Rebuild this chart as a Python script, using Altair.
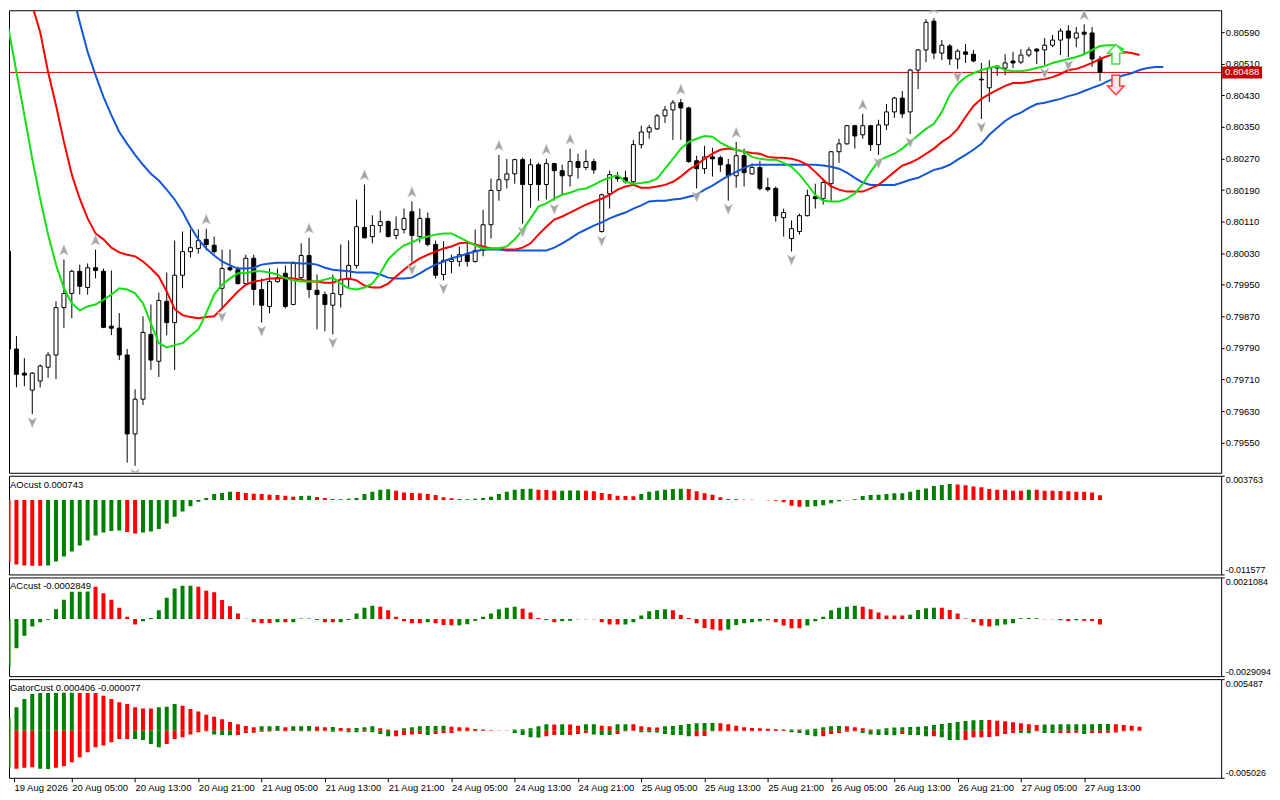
import altair as alt
import pandas as pd

# ---------------- data (prices in points, 1 point = 0.00001) ----------------
HIGH = [80040, 79820, 79764, 79728, 79748, 79779, 79908, 80014, 79988, 80001,
        80004, 80039, 79991, 79986, 79878, 79787, 79685, 79870, 79900, 79930,
        79981, 80062, 80085, 80090, 80090, 80092, 80072, 80039, 80039, 79996,
        80026, 80026, 79966, 79991, 79991, 79999, 80009, 80055, 80069, 79976,
        79933, 79976, 80052, 80062, 80166, 80204, 80126, 80138, 80113, 80123,
        80143, 80161, 80143, 80133, 80062, 80060, 80026, 80047, 80060, 80090,
        80140, 80219, 80279, 80269, 80269, 80272, 80269, 80259, 80269, 80259,
        80254, 80295, 80282, 80292, 80269, 80181, 80239, 80236, 80239, 80317,
        80353, 80355, 80383, 80403, 80418, 80421, 80401, 80277, 80302, 80297,
        80277, 80269, 80312, 80295, 80257, 80264, 80221, 80199, 80143, 80113,
        80130, 80191, 80206, 80219, 80289, 80320, 80355, 80355, 80383, 80355,
        80368, 80408, 80426, 80441, 80497, 80547, 80623, 80626, 80570, 80560,
        80547, 80560, 80545, 80512, 80519, 80507, 80534, 80540, 80547, 80552,
        80550, 80575, 80583, 80600, 80608, 80603, 80610, 80603, 80530]
OPEN = [80034, 79787, 79726, 79683, 79706, 79741, 79772, 79892, 79928, 79984,
        79943, 79993, 79984, 79845, 79840, 79772, 79572, 79660, 79824, 79756,
        79908, 79854, 79974, 80034, 80042, 80065, 80050, 79941, 79993, 79988,
        79953, 80017, 79938, 79895, 79958, 79979, 79900, 79968, 80024, 79936,
        79925, 79898, 79925, 79963, 79999, 80095, 80072, 80100, 80110, 80075,
        80090, 80135, 80072, 80118, 80052, 79976, 80009, 80009, 80026, 80009,
        80037, 80102, 80189, 80216, 80231, 80267, 80204, 80254, 80204, 80257,
        80239, 80226, 80262, 80247, 80262, 80085, 80181, 80224, 80221, 80211,
        80305, 80337, 80345, 80378, 80393, 80411, 80398, 80264, 80244, 80274,
        80272, 80254, 80226, 80277, 80231, 80247, 80196, 80194, 80120, 80067,
        80085, 80125, 80173, 80168, 80206, 80287, 80307, 80353, 80330, 80353,
        80305, 80355, 80388, 80423, 80388, 80494, 80545, 80618, 80537, 80555,
        80522, 80540, 80534, 80471, 80449, 80499, 80499, 80517, 80514, 80532,
        80547, 80545, 80557, 80570, 80593, 80575, 80590, 80588, 80522]
CLOSE = [79787, 79723, 79721, 79726, 79744, 79772, 79892, 79928, 79984, 79946,
         79993, 79986, 79842, 79840, 79772, 79572, 79660, 79829, 79759, 79910,
         79854, 79974, 80034, 80044, 80062, 80052, 80034, 79991, 79988, 79953,
         80017, 79938, 79898, 79958, 79968, 79895, 80004, 80024, 79938, 79925,
         79900, 79928, 79963, 79999, 80097, 80069, 80100, 80110, 80072, 80090,
         80118, 80075, 80118, 80052, 79974, 80012, 80014, 80026, 80009, 80037,
         80102, 80189, 80216, 80231, 80267, 80204, 80254, 80204, 80257, 80239,
         80226, 80262, 80247, 80262, 80241, 80178, 80229, 80219, 80211, 80305,
         80337, 80348, 80378, 80393, 80411, 80398, 80262, 80244, 80274, 80269,
         80254, 80226, 80277, 80234, 80247, 80194, 80191, 80125, 80133, 80092,
         80125, 80176, 80168, 80209, 80287, 80307, 80353, 80327, 80353, 80305,
         80355, 80388, 80423, 80383, 80494, 80545, 80615, 80537, 80557, 80522,
         80542, 80534, 80517, 80469, 80499, 80504, 80512, 80512, 80532, 80545,
         80542, 80557, 80570, 80593, 80575, 80588, 80585, 80522, 80488]
LOW = [79780, 79690, 79693, 79622, 79690, 79714, 79711, 79840, 79865, 79925,
       79925, 79966, 79840, 79822, 79759, 79499, 79491, 79645, 79734, 79716,
       79822, 79734, 79941, 80019, 80029, 80037, 80029, 79890, 79984, 79950,
       79950, 79898, 79854, 79878, 79955, 79890, 79898, 79963, 79917, 79837,
       79832, 79824, 79892, 79941, 79991, 80067, 80055, 80082, 80070, 80065,
       80080, 80009, 80057, 80047, 79966, 79961, 79979, 79996, 79996, 80006,
       80022, 80067, 80163, 80194, 80206, 80105, 80145, 80163, 80166, 80163,
       80178, 80199, 80219, 80241, 80231, 80082, 80143, 80211, 80206, 80206,
       80295, 80320, 80342, 80360, 80317, 80317, 80259, 80194, 80231, 80224,
       80236, 80163, 80196, 80199, 80229, 80189, 80186, 80110, 80072, 80034,
       80077, 80123, 80143, 80153, 80161, 80259, 80305, 80295, 80320, 80289,
       80279, 80342, 80373, 80373, 80332, 80446, 80514, 80522, 80519, 80507,
       80497, 80512, 80514, 80370, 80413, 80479, 80481, 80499, 80509, 80527,
       80509, 80507, 80552, 80532, 80527, 80552, 80534, 80502, 80466]

# Alligator lines (points); first bar index of each line
LIPS_START = 0
LIPS = [80598, 80489, 80380, 80269, 80168, 80077, 80001, 79941, 79903, 79885,
        79895, 79900, 79912, 79925, 79941, 79938, 79928, 79903, 79852, 79802,
        79791, 79797, 79802, 79820, 79837, 79878, 79925, 79950, 79966, 79979,
        79979, 79984, 79984, 79981, 79976, 79966, 79961, 79958, 79958, 79958,
        79963, 79968, 79953, 79941, 79938, 79943, 79953, 79979, 80014, 80034,
        80050, 80057, 80067, 80072, 80077, 80080, 80080, 80070, 80060, 80050,
        80042, 80042, 80042, 80047, 80065, 80089, 80118, 80148, 80156, 80168,
        80178, 80183, 80191, 80194, 80203, 80214, 80221, 80228, 80211, 80206,
        80208, 80211, 80219, 80244, 80269, 80295, 80312, 80320, 80327, 80325,
        80310, 80300, 80292, 80287, 80274, 80269, 80267, 80267, 80259, 80249,
        80229, 80204, 80178, 80163, 80161, 80161, 80168, 80181, 80206, 80236,
        80264, 80274, 80282, 80295, 80312, 80329, 80345, 80358, 80388, 80431,
        80459, 80476, 80486, 80494, 80499, 80504, 80494, 80491, 80491, 80494,
        80499, 80504, 80512, 80517, 80522, 80527, 80534, 80545, 80555, 80557,
        80557, 80545]
TEETH_START = 3
TEETH = [80658, 80590, 80489, 80405, 80312, 80229, 80168, 80118, 80080, 80065,
         80044, 80032, 80026, 80022, 80009, 79991, 79971, 79933, 79888, 79873,
         79868, 79865, 79868, 79870, 79890, 79912, 79933, 79950, 79958, 79961,
         79966, 79966, 79968, 79966, 79963, 79958, 79958, 79955, 79955, 79963,
         79966, 79961, 79948, 79943, 79943, 79953, 79971, 79988, 80004, 80017,
         80026, 80034, 80042, 80047, 80055, 80057, 80052, 80047, 80042, 80042,
         80039, 80039, 80044, 80055, 80077, 80097, 80115, 80123, 80133, 80143,
         80153, 80161, 80168, 80178, 80191, 80199, 80203, 80196, 80196, 80199,
         80203, 80211, 80224, 80241, 80254, 80269, 80282, 80292, 80295, 80292,
         80287, 80284, 80282, 80274, 80272, 80272, 80269, 80264, 80254, 80236,
         80216, 80199, 80191, 80186, 80186, 80186, 80194, 80203, 80219, 80236,
         80252, 80259, 80269, 80282, 80295, 80312, 80325, 80345, 80375, 80403,
         80421, 80433, 80444, 80454, 80461, 80461, 80464, 80469, 80471, 80476,
         80484, 80494, 80497, 80504, 80512, 80522, 80530, 80534, 80540, 80537,
         80532]
JAW_START = 8
JAW = [80696, 80615, 80540, 80481, 80426, 80380, 80337, 80307, 80279, 80254,
       80231, 80214, 80191, 80166, 80135, 80097, 80065, 80042, 80024, 80009,
       79999, 79991, 79991, 79993, 80001, 80004, 80006, 80006, 80006, 80004,
       80004, 80001, 79993, 79988, 79986, 79984, 79981, 79981, 79981, 79976,
       79968, 79966, 79966, 79968, 79979, 79991, 80001, 80009, 80017, 80022,
       80029, 80034, 80039, 80039, 80039, 80037, 80037, 80037, 80037, 80037,
       80037, 80044, 80055, 80067, 80080, 80090, 80100, 80108, 80118, 80126,
       80133, 80143, 80151, 80161, 80163, 80163, 80166, 80168, 80173, 80178,
       80191, 80201, 80214, 80226, 80236, 80246, 80254, 80254, 80254, 80254,
       80254, 80254, 80254, 80254, 80254, 80252, 80249, 80244, 80234, 80221,
       80209, 80203, 80203, 80203, 80203, 80209, 80216, 80221, 80231, 80241,
       80246, 80254, 80267, 80279, 80292, 80307, 80330, 80348, 80365, 80378,
       80386, 80398, 80408, 80411, 80416, 80421, 80428, 80433, 80441, 80449,
       80456, 80466, 80474, 80481, 80486, 80494, 80499, 80502, 80502]

FRACTAL_UP = [7, 11, 25, 38, 45, 51, 62, 68, 71, 85, 92, 108, 117, 136]
FRACTAL_DN = [3, 16, 27, 32, 41, 51, 55, 65, 69, 75, 87, 91, 99, 110, 114, 120, 123, 131, 134]
SIGNAL_BAR = [140]
SIGNAL_UP = [80534]
SIGNAL_DN = [80456]

# oscillators, in units of 0.0001
AO = [-96.6, -100.3, -101.8, -102.3, -102.4, -101.8, -95.6, -87.9, -80.1, -70.8,
      -63.1, -55.3, -50.7, -48.1, -47.6, -49.6, -52.2, -50.7, -49.1, -45.0,
      -36.7, -25.9, -18.1, -9.9, -2.6, 3.0, 9.2, 10.8, 12.9, 12.3,
      10.8, 9.8, 9.2, 8.2, 7.7, 6.7, 5.1, 6.1, 6.7, 4.6,
      3.0, 1.5, 1.0, 2.0, 3.0, 9.2, 12.9, 16.0, 16.5, 14.4,
      11.8, 10.8, 10.3, 9.2, 7.7, 4.1, 2.5, 1.5, 1.0, 2.0,
      3.0, 5.1, 9.2, 12.9, 16.0, 17.0, 17.5, 16.0, 15.4, 14.4,
      14.5, 14.7, 14.9, 14.4, 13.4, 10.8, 9.2, 6.7, 6.1, 5.9,
      9.2, 12.9, 14.4, 16.0, 17.0, 17.5, 17.0, 13.4, 10.3, 8.2,
      4.1, 1.5, 1.0, 0.5, 0.3, -0.1, -0.3, -1.1, -3.7, -8.8,
      -10.6, -10.4, -9.9, -8.3, -5.2, -2.1, -0.6, 1.0, 6.1, 7.7,
      8.0, 9.2, 10.3, 10.5, 12.9, 16.0, 18.0, 21.6, 23.2, 24.7,
      24.2, 22.9, 21.1, 19.6, 17.0, 16.0, 15.7, 14.4, 14.2, 16.0,
      15.7, 14.4, 14.2, 13.9, 13.4, 12.9, 12.6, 11.8, 7.43]
AO_COL = ("RRRRR" + "G" * 10 + "RR" + "G" * 12 + "R" * 8 + "GG" + "R" * 4 + "G" * 6 +
          "R" * 10 + "G" * 8 + "RRR" + "GGG" + "R" * 7 + "G" * 6 + "R" * 15 + "G" * 19 +
          "R" * 9 + "G" + "R" * 9)
AC = [-24.5, -14.9, -8.5, -3.9, -1.7, -0.4, 4.9, 9.8, 13.8, 13.85,
      13.9, 16.4, 13.0, 9.8, 5.7, 1.1, -2.9, -1.2, 0.5, 4.4,
      10.8, 15.5, 16.9, 16.9, 16.4, 14.3, 13.5, 9.6, 6.4, 2.7,
      0.1, -1.7, -2.2, -2.1, -1.7, -1.7, -1.7, 0.2, 0.25, -0.5,
      -1.7, -1.7, -1.7, -0.5, 2.7, 5.7, 6.7, 6.2, 4.4, 1.1,
      -1.2, -2.2, -2.2, -1.7, -2.2, -3.1, -3.2, -3.2, -2.7, -0.9,
      1.1, 2.7, 4.9, 5.7, 6.2, 5.2, 3.2, 0.5, -0.5, -1.7,
      -1.2, -0.9, -0.2, -0.2, -0.2, -1.7, -2.9, -2.9, -2.9, -1.7,
      1.7, 3.9, 4.5, 4.9, 4.4, 2.0, 0.5, -2.2, -4.6, -5.4,
      -5.9, -5.4, -3.1, -2.2, -1.7, -1.2, -0.7, -1.7, -3.4, -4.8,
      -4.8, -3.4, -1.2, 1.1, 4.4, 5.7, 6.2, 6.7, 6.2, 4.9,
      3.2, 1.7, 1.7, 1.7, 2.1, 4.5, 5.4, 5.7, 5.7, 4.5,
      2.8, 0.2, -1.7, -3.4, -3.9, -3.4, -2.9, -2.2, 0.3, 0.5,
      0.3, -0.2, -0.2, -0.7, -1.0, -0.7, -0.9, -1.0, -2.849]
AC_COL = ("G" * 11 + "R" * 6 + "G" * 7 + "R" * 10 + "G" + "R" + "GGG" + "RRR" + "G" * 5 +
          "R" * 6 + "G" + "RRR" + "G" * 8 + "R" * 5 + "G" * 4 + "R" * 4 + "G" * 6 + "R" * 7 +
          "G" * 6 + "R" * 4 + "G" * 7 + "R" * 6 + "G" * 4 + "R" * 7 + "G" * 6 + "R" * 4 +
          "G" + "RRR")
GATOR_UP = [14.2, 24.8, 33.6, 38.9, 40.0, 40.1, 40.2, 40.3, 40.35, 40.2,
            40.1, 40.0, 37.2, 33.6, 30.1, 28.3, 24.8, 23.7, 23.6, 24.8,
            25.5, 28.3, 26.6, 23.0, 20.5, 17.0, 14.9, 12.0, 9.2, 6.7,
            5.0, 3.5, 4.6, 4.7, 4.8, 3.5, 4.6, 4.7, 4.8, 4.2,
            3.5, 3.9, 2.8, 2.5, 2.8, 3.5, 4.6, 2.5, 1.1, 0.4,
            2.5, 3.5, 4.6, 4.8, 5.0, 5.3, 4.2, 3.5, 3.2, 1.8,
            1.1, 0.4, 0.25, 0.2, 1.1, 1.4, 2.5, 4.6, 6.7, 6.4,
            6.7, 6.4, 5.3, 6.7, 6.9, 5.3, 4.6, 6.7, 6.8, 6.7,
            4.6, 3.5, 3.4, 4.6, 5.0, 6.0, 7.1, 7.8, 8.0, 8.1,
            7.8, 6.7, 5.3, 3.5, 2.8, 2.5, 2.1, 1.4, 1.1, 1.2,
            1.1, 1.2, 2.1, 3.5, 4.6, 5.0, 4.6, 3.5, 2.5, 1.1,
            1.4, 2.5, 3.2, 3.5, 3.9, 4.2, 4.6, 6.0, 7.1, 8.1,
            9.2, 10.3, 11.0, 11.3, 11.2, 10.6, 9.9, 8.9, 7.8, 6.7,
            6.0, 6.4, 6.5, 6.7, 6.75, 6.8, 6.85, 6.9, 6.95, 7.0,
            6.7, 6.0, 5.3, 4.06]
GATOR_UP_COL = ("G" * 9 + "R" * 10 + "GGG" + "R" * 10 + "GGG" + "R" + "GGG" + "RR" + "G" +
                "RR" + "GGG" + "RRR" + "G" * 6 + "R" * 8 + "G" * 5 + "R" + "G" + "RR" + "GG" +
                "RR" + "GG" + "R" * 4 + "G" * 7 + "R" * 9 + "G" + "R" + "G" * 5 + "R" * 4 +
                "G" * 14 + "R" * 7 + "G" * 9 + "R" * 4)
GATOR_DN = [-38.9, -40.7, -39.6, -38.9, -40.7, -40.8, -39.6, -37.9, -33.6, -28.3,
            -23.0, -17.7, -15.9, -12.4, -8.9, -8.8, -8.9, -9.9, -14.2, -17.7,
            -14.2, -8.9, -7.1, -4.2, -1.8, -0.7, -4.2, -4.6, -4.8, -4.6,
            -2.5, -2.3, -1.1, -0.9, -0.4, -0.7, -0.4, -0.7, -0.7, -0.75,
            -0.4, -1.1, -0.7, -1.8, -1.85, -1.1, -1.8, -3.5, -6.0, -5.9,
            -4.6, -4.2, -3.5, -4.6, -3.5, -2.5, -2.4, -0.7, -0.6, -0.7,
            -0.25, -0.2, -0.2, -0.2, -2.5, -4.6, -7.1, -7.2, -6.0, -4.6,
            -4.7, -4.6, -3.5, -2.5, -4.2, -4.6, -4.7, -3.5, -0.7, -0.25,
            -1.8, -1.85, -1.9, -3.5, -4.6, -4.7, -6.0, -5.9, -5.8, -0.7,
            -0.7, -0.6, -0.6, -0.5, -0.55, -0.5, -0.45, -0.4, -0.5, -1.8,
            -2.5, -4.6, -6.0, -5.9, -3.5, -2.5, -1.1, -0.7, -2.5, -4.2,
            -4.6, -4.7, -4.8, -3.5, -4.6, -4.7, -6.0, -5.9, -7.1, -9.9,
            -10.0, -9.9, -7.1, -7.0, -6.9, -6.0, -3.5, -2.5, -2.6, -2.7,
            -0.7, -2.5, -2.6, -2.5, -2.4, -2.3, -3.5, -2.5, -2.4, -2.3,
            -2.1, -0.77]
GATOR_DN_COL = ("G" + "RRR" + "GG" + "R" * 10 + "G" * 4 + "R" * 6 + "GGG" + "R" * 10 + "G" +
                "R" + "G" + "R" + "GG" + "R" + "GGG" + "R" * 4 + "G" + "R" * 5 + "G" + "R" * 4 +
                "G" * 4 + "RR" + "G" + "RRR" + "GGG" + "RRR" + "G" * 7 + "R" * 7 + "G" + "RRR" +
                "G" * 5 + "R" * 5 + "G" * 5 + "R" + "GGG" + "R" + "GGG" + "R" * 7 + "GG" + "R" +
                "GG" + "RRR" + "G" + "R" * 5)

PRICE_TICKS = [79550, 79630, 79710, 79790, 79870, 79950, 80030, 80110,
               80190, 80270, 80350, 80430, 80510, 80590]
TIME_LABELS = ["19 Aug 2026", "20 Aug 05:00", "20 Aug 13:00", "20 Aug 21:00",
               "21 Aug 05:00", "21 Aug 13:00", "21 Aug 21:00", "24 Aug 05:00",
               "24 Aug 13:00", "24 Aug 21:00", "25 Aug 05:00", "25 Aug 13:00",
               "25 Aug 21:00", "26 Aug 05:00", "26 Aug 13:00", "26 Aug 21:00",
               "27 Aug 05:00", "27 Aug 13:00"]

AO_RANGE = [-0.011577, 0.003763]
AC_RANGE = [-0.0029094, 0.0021084]
GATOR_RANGE = [-0.005026, 0.005487]
MAIN_RANGE = [0.794735, 0.806456]

# ---------------- layout / style ----------------
PT = 1e-5
OSC = 1e-4
W = 1216
XDOM = [0.6875, 0.6875 + W / 8.0]
FONT = "Liberation Sans"
FS = 9.5
SUBFS = 9
GREEN = "#008000"
RED = "#ff0000"

xscale = alt.Scale(domain=XDOM, nice=False, zero=False)


def xenc(axis=None):
    return alt.X("i:Q", scale=xscale, axis=axis)


# ---------------- main price panel ----------------
bars = pd.DataFrame({
    "i": list(range(len(OPEN))),
    "open": [v * PT for v in OPEN],
    "high": [v * PT for v in HIGH],
    "low": [v * PT for v in LOW],
    "close": [v * PT for v in CLOSE],
})
yscale = alt.Scale(domain=MAIN_RANGE, nice=False, zero=False)
main_axis = alt.Axis(orient="right", values=[v * PT for v in PRICE_TICKS], format=".5f",
                     title=None, tickSize=3, labelPadding=1, labelFlush=False,
                     labelOverlap=False, domain=False, grid=False)


def yenc(field):
    return alt.Y(field, scale=yscale, axis=main_axis)


last = pd.DataFrame({"p": [CLOSE[-1] * PT], "t": [f"{CLOSE[-1] * PT:.5f}"]})
price_line = alt.Chart(last).mark_rule(color="#dd0000", strokeWidth=1).encode(y=yenc("p:Q"))

wick = alt.Chart(bars).mark_rule(color="black", strokeWidth=1, clip=True).encode(
    x=xenc(), y=yenc("low:Q"), y2="high:Q")
body = alt.Chart(bars).mark_bar(size=4, stroke="black", strokeWidth=1, clip=True).encode(
    x=xenc(), y=yenc("open:Q"), y2="close:Q",
    fill=alt.condition("datum.close < datum.open", alt.value("black"), alt.value("white")))

lines = pd.concat([
    pd.DataFrame({"i": list(range(JAW_START, JAW_START + len(JAW))),
                  "v": [v * PT for v in JAW], "s": "Jaw"}),
    pd.DataFrame({"i": list(range(TEETH_START, TEETH_START + len(TEETH))),
                  "v": [v * PT for v in TEETH], "s": "Teeth"}),
    pd.DataFrame({"i": list(range(LIPS_START, LIPS_START + len(LIPS))),
                  "v": [v * PT for v in LIPS], "s": "Lips"}),
])
alligator = alt.Chart(lines).mark_line(strokeWidth=2, clip=True).encode(
    x=xenc(), y=yenc("v:Q"),
    color=alt.Color("s:N", scale=alt.Scale(domain=["Jaw", "Teeth", "Lips"],
                                           range=["#1457d6", "#ff0000", "#12e012"]),
                    legend=None))

up_df = pd.DataFrame({"i": FRACTAL_UP, "p": [HIGH[k] * PT for k in FRACTAL_UP]})
dn_df = pd.DataFrame({"i": FRACTAL_DN, "p": [LOW[k] * PT for k in FRACTAL_DN]})
ARROW_UP = "M0,-1 L0.75,0.8 L0,0.35 L-0.75,0.8 Z"
ARROW_DN = "M0,1 L0.75,-0.8 L0,-0.35 L-0.75,-0.8 Z"
frac_up = alt.Chart(up_df).mark_point(shape=ARROW_UP, size=130, filled=True, color="#a4a4a4",
                                      stroke="#cfcfcf", strokeWidth=0.6, opacity=1,
                                      yOffset=-9, clip=True).encode(x=xenc(), y=yenc("p:Q"))
frac_dn = alt.Chart(dn_df).mark_point(shape=ARROW_DN, size=130, filled=True, color="#a4a4a4",
                                      stroke="#cfcfcf", strokeWidth=0.6, opacity=1,
                                      yOffset=8, clip=True).encode(x=xenc(), y=yenc("p:Q"))

sig_df = pd.DataFrame({"i": SIGNAL_BAR, "up": [v * PT for v in SIGNAL_UP],
                       "dn": [v * PT for v in SIGNAL_DN]})
BLOCK_UP = "M0,-1 L0.85,-0.1 L0.4,-0.1 L0.4,1 L-0.4,1 L-0.4,-0.1 L-0.85,-0.1 Z"
BLOCK_DN = "M0,1 L0.85,0.1 L0.4,0.1 L0.4,-1 L-0.4,-1 L-0.4,0.1 L-0.85,0.1 Z"
sig_up = alt.Chart(sig_df).mark_point(shape=BLOCK_UP, size=380, filled=True, color="#f2fff2",
                                      stroke="#4fd84f", strokeWidth=1.5, opacity=1,
                                      clip=True).encode(x=xenc(), y=yenc("up:Q"))
sig_dn = alt.Chart(sig_df).mark_point(shape=BLOCK_DN, size=380, filled=True, color="#ffe6ee",
                                      stroke="#ff3b3b", strokeWidth=1.5, opacity=1,
                                      clip=True).encode(x=xenc(), y=yenc("dn:Q"))

BOX = "M-1,-0.3 L1,-0.3 L1,0.3 L-1,0.3 Z"
pbox = alt.Chart(last).mark_point(shape=BOX, size=1600, filled=True, color="#c80000",
                                  opacity=1).encode(x=alt.value(W + 21), y=yenc("p:Q"))
ptext = alt.Chart(last).mark_text(font=FONT, fontSize=FS, color="white", align="center",
                                  baseline="middle").encode(
    x=alt.value(W + 21), y=yenc("p:Q"), text="t:N")

main = alt.layer(price_line, wick, body, alligator, frac_up, frac_dn, sig_up, sig_dn,
                 pbox, ptext).properties(width=W, height=464)


# ---------------- sub panels ----------------
def sub_axis(rng, labels):
    lo, hi = rng
    return alt.Axis(orient="right", values=[hi, lo], title=None, tickSize=3, labelPadding=1,
                    labelFlush=True, labelOverlap=False, domain=False, grid=False,
                    labelFontSize=SUBFS,
                    labelExpr=f"datum.value > 0 ? '{labels[0]}' : '{labels[1]}'")


def header(txt):
    return alt.Chart(pd.DataFrame({"t": [txt]})).mark_text(
        font=FONT, fontSize=FS, color="black", align="left", baseline="middle").encode(
        x=alt.value(1), y=alt.value(9), text="t:N")


colscale = alt.Scale(domain=["G", "R"], range=[GREEN, RED])


def hist(df, rng, labels, xaxis=None):
    return alt.Chart(df).mark_bar(size=4, clip=True).encode(
        x=xenc(xaxis),
        y=alt.Y("v:Q", scale=alt.Scale(domain=rng, nice=False, zero=False),
                axis=sub_axis(rng, labels)),
        y2=alt.Y2(datum=0),
        color=alt.Color("c:N", scale=colscale, legend=None))


ao_df = pd.DataFrame({"i": list(range(len(AO))), "v": [a * OSC for a in AO], "c": list(AO_COL)})
ac_df = pd.DataFrame({"i": list(range(len(AC))), "v": [a * OSC for a in AC], "c": list(AC_COL)})
g_df = pd.concat([
    pd.DataFrame({"i": list(range(len(GATOR_UP))), "v": [a * OSC for a in GATOR_UP],
                  "c": list(GATOR_UP_COL)}),
    pd.DataFrame({"i": list(range(len(GATOR_DN))), "v": [a * OSC for a in GATOR_DN],
                  "c": list(GATOR_DN_COL)}),
])

tick_vals = [XDOM[0]] + [8 * k for k in range(1, len(TIME_LABELS))]
label_arr = "[" + ",".join(f"'{s}'" for s in TIME_LABELS) + "]"
time_axis = alt.Axis(orient="bottom", values=tick_vals, title=None, tickSize=4,
                     labelPadding=1, labelAlign="left", labelFlush=False, labelOverlap=False,
                     domain=False, grid=False, labelExpr=f"{label_arr}[floor(datum.value / 8)]")

ao_chart = alt.layer(hist(ao_df, AO_RANGE, ["0.003763", "-0.011577"]),
                     header("AOcust 0.000743")).properties(width=W, height=99)
ac_chart = alt.layer(hist(ac_df, AC_RANGE, ["0.0021084", "-0.0029094"]),
                     header("ACcust -0.0002849")).properties(width=W, height=99)
g_chart = alt.layer(hist(g_df, GATOR_RANGE, ["0.005487", "-0.005026"], xaxis=time_axis),
                    header("GatorCust 0.000406 -0.000077")).properties(width=W, height=99)

chart = alt.vconcat(main, ao_chart, ac_chart, g_chart, spacing=1).resolve_scale(
    color="independent"
).properties(
    padding=0, background="white"
).configure_view(stroke="black", strokeWidth=1).configure_axis(
    labelFont=FONT, labelFontSize=FS, labelColor="black", tickColor="black"
)

chart.save("out.html", embed_options={"renderer": "svg", "actions": False})
